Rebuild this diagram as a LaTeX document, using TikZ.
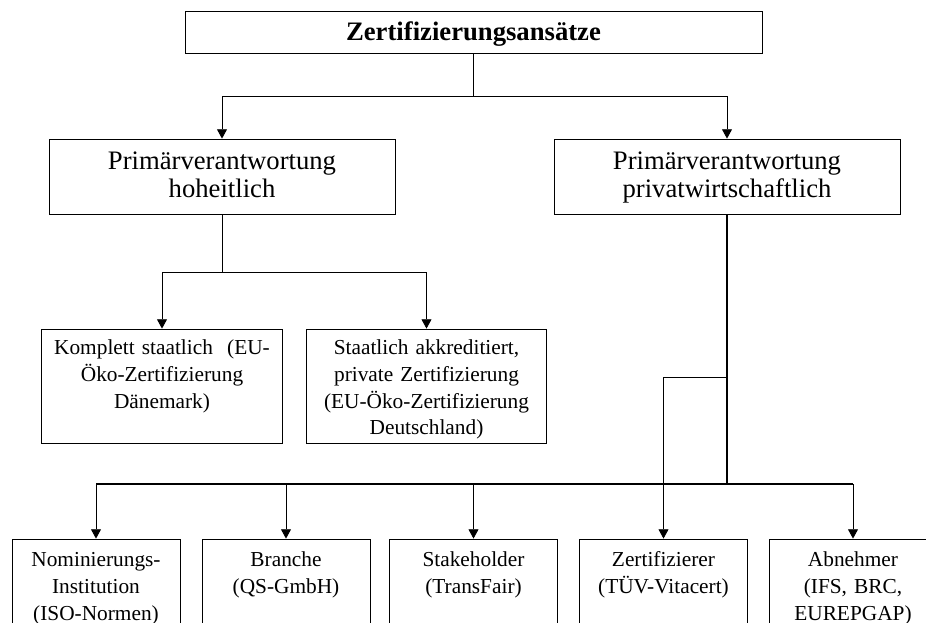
\documentclass[tikz,border=0pt]{standalone}
\usepackage{fontspec}
\setmainfont{Liberation Serif}
\usepackage{tikz}
\usetikzlibrary{arrows.meta}
\pgfdeclarelayer{edgelayer}
\pgfdeclarelayer{nodelayer}
\pgfsetlayers{edgelayer,nodelayer,main}
\tikzset{
	head/.style={draw, line width=0.6pt, inner sep=0pt, align=center, text width=432.75pt, text height=22pt, text depth=9.5pt, font=\fontsize{20}{24}\selectfont\bfseries},
	main/.style={draw, line width=0.6pt, inner sep=0pt, align=center, text width=259.5pt, text height=23.25pt, text depth=33pt, font=\fontsize{20}{21}\selectfont},
	sub/.style={draw, line width=0.6pt, inner sep=0pt, align=center, text width=180.5pt, text height=19.5pt, text depth=66pt, font=\fontsize{16}{20}\selectfont},
	leaf/.style={draw, line width=0.6pt, inner sep=0pt, align=center, text width=126pt, text height=21pt, text depth=70.5pt, font=\fontsize{16}{20}\selectfont},
	arrow/.style={line width=0.7pt, -{Triangle[width=7.5pt,length=7pt]}},
	trunk/.style={line width=1.4pt}
}
\begin{document}
\begin{tikzpicture}[x=0.75pt, y=-0.75pt]
	\useasboundingbox (0,0) rectangle (926,623);
	\begin{pgfonlayer}{nodelayer}
		\node [style=head] (0) at (473.5, 32) {Zertifizierungsansätze};
		\node [style=main] (1) at (222, 176.5) {Primärverantwortung\\hoheitlich};
		\node [style=main] (2) at (727, 176.5) {Primärverantwortung\\privatwirtschaftlich};
		\node [style=sub] (3) at (162, 386) {Komplett staatlich~ (EU-\\Öko-Zertifizierung\\Dänemark)};
		\node [style=sub] (4) at (426.5, 386) {Staatlich akkreditiert,\\private Zertifizierung\\(EU-Öko-Zertifizierung\\Deutschland)};
		\node [style=leaf] (5) at (96, 600) {Nominierungs-\\Institution\\(ISO-Normen)};
		\node [style=leaf] (6) at (286, 600) {Branche\\(QS-GmbH)};
		\node [style=leaf] (7) at (473.5, 600) {Stakeholder\\(TransFair)};
		\node [style=leaf] (8) at (663.5, 600) {Zertifizierer\\(TÜV-Vitacert)};
		\node [style=leaf] (9) at (853, 600) {Abnehmer\\(IFS, BRC,\\EUREPGAP)};
		\coordinate (10) at (473.5, 96);
		\coordinate (11) at (222, 272);
		\coordinate (12) at (727, 377);
		\coordinate (13) at (727, 484);
	\end{pgfonlayer}
	\begin{pgfonlayer}{edgelayer}
		\draw [style=arrow, -] (0.south) to (10);
		\draw [style=arrow] (10) -| (1.north);
		\draw [style=arrow] (10) -| (2.north);
		\draw [style=arrow, -] (1.south) to (11);
		\draw [style=arrow] (11) -| (3.north);
		\draw [style=arrow] (11) -| (4.north);
		\draw [style=trunk] (2.south) to (13);
		\draw [style=trunk] (5.north |- 13) to (9.north |- 13);
		\draw [style=arrow] (12) -| (8.north);
		\draw [style=arrow] (13) -| (5.north);
		\draw [style=arrow] (13) -| (6.north);
		\draw [style=arrow] (13) -| (7.north);
		\draw [style=arrow] (13) -| (9.north);
	\end{pgfonlayer}
\end{tikzpicture}
\end{document}
